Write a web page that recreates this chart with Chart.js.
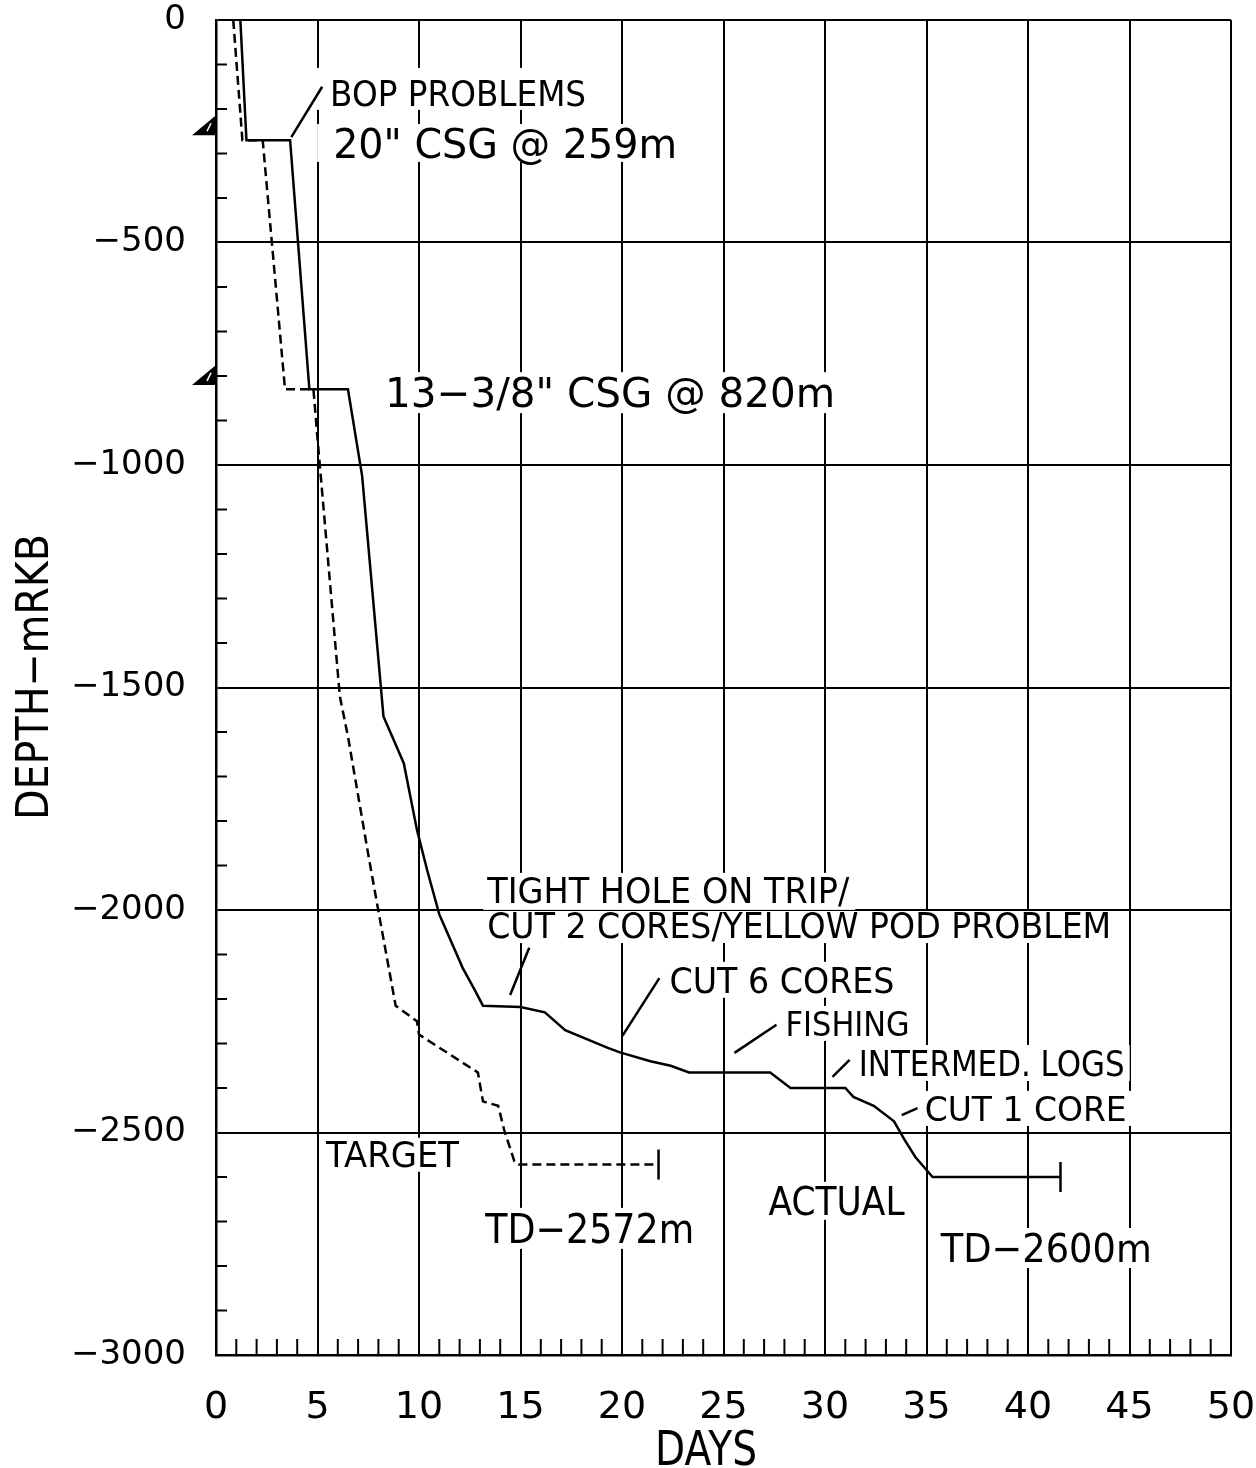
<!DOCTYPE html>
<html>
<head>
<meta charset="utf-8">
<script src="https://cdn.jsdelivr.net/npm/chart.js@4.4.1/dist/chart.umd.min.js"></script>
<style>
  html, body { margin: 0; padding: 0; background: #fff; }
  canvas { display: block; }
</style>
</head>
<body>
<canvas id="myChart" width="1256" height="1468"></canvas>
<script>
// actual well (solid line)
const actualDays = [1.2, 1.5, 3.65, 4.6, 6.5, 7.2, 8.25, 9.25, 9.9, 10.4, 11.0, 12.15, 12.75, 13.15, 15.0, 16.2, 17.2, 19.3, 19.9, 21.4, 22.4, 23.3, 27.3, 28.3, 31.0, 31.4, 32.4, 33.4, 33.9, 34.45, 35.3, 41.6];
const actualDepth = [0, -270, -270, -830, -830, -1025, -1565, -1670, -1820, -1910, -2010, -2130, -2180, -2215, -2218, -2230, -2270, -2310, -2320, -2340, -2350, -2365, -2365, -2400, -2400, -2420, -2440, -2475, -2515, -2555, -2600, -2600];

// planned well (dashed line)
const targetDays = [0.85, 1.3, 2.3, 3.4, 4.8, 5.0, 6.1, 6.5, 7.5, 8.05, 8.85, 9.9, 10.0, 12.9, 13.15, 13.9, 14.2, 14.7, 14.9, 21.8];
const targetDepth = [0, -270, -270, -830, -830, -940, -1520, -1610, -1875, -2015, -2215, -2250, -2280, -2365, -2430, -2440, -2495, -2565, -2572, -2572];

// casing shoes marked on the depth axis
const casingDepth = [-259, -820];

// text notes: left edge (day), baseline (depth), cap height & width in px
const notes = [
  { text: 'BOP PROBLEMS', day: 5.62, depth: -193, cap: 26, width: 256, pad: [16, 4, 12, 4] },
  { text: '20" CSG @ 259m', day: 5.77, depth: -310, cap: 30, width: 344, pad: [16, 4, 4, 4] },
  { text: '13\u22123/8" CSG @ 820m', day: 8.33, depth: -870, cap: 30, width: 450, pad: [6, 5, 5, 6] },
  { text: 'TIGHT HOLE ON TRIP/', day: 13.36, depth: -1984, cap: 26, width: 362, pad: [4, 6, 4, 7] },
  { text: 'CUT 2 CORES/YELLOW POD PROBLEM', day: 13.36, depth: -2063, cap: 26, width: 624, pad: [4, 4, 1, 5] },
  { text: 'CUT 6 CORES', day: 22.34, depth: -2186, cap: 26, width: 225, pad: [4, 5, 5, 5] },
  { text: 'FISHING', day: 28.06, depth: -2283, cap: 25, width: 124, pad: [4, 5, 5, 5] },
  { text: 'INTERMED. LOGS', day: 31.66, depth: -2373, cap: 26, width: 266, pad: [4, 5, 5, 5] },
  { text: 'CUT 1 CORE', day: 34.91, depth: -2474, cap: 25, width: 202, pad: [4, 5, 5, 5] },
  { text: 'TARGET', day: 5.42, depth: -2577, cap: 26, width: 133, pad: [4, 5, 3, 5] },
  { text: 'TD\u22122572m', day: 13.26, depth: -2748, cap: 30, width: 209, pad: [4, 5, 5, 6] },
  { text: 'ACTUAL', day: 27.22, depth: -2685, cap: 28, width: 136, pad: [4, 5, 5, 5] },
  { text: 'TD\u22122600m', day: 35.7, depth: -2791, cap: 29, width: 211, pad: [4, 5, 5, 6] }
];

// leader lines [day1, depth1, day2, depth2]
const leaders = [
  [5.23, -150, 3.71, -263],
  [15.43, -2085, 14.49, -2191],
  [21.84, -2153, 20.02, -2283],
  [27.61, -2258, 25.54, -2321],
  [31.21, -2337, 30.37, -2375],
  [34.56, -2445, 33.78, -2461]
];

const FONT = '"DejaVu Sans", "Liberation Sans", sans-serif';

function fitText(ctx, str, x, yBase, cap, width) {
  ctx.font = (cap / 0.73).toFixed(1) + 'px ' + FONT;
  const w = ctx.measureText(str).width;
  ctx.save();
  ctx.translate(x, yBase);
  ctx.scale(width / w, 1);
  ctx.textAlign = 'left';
  ctx.textBaseline = 'alphabetic';
  ctx.fillStyle = '#000';
  ctx.fillText(str, 0, 0);
  ctx.restore();
}

const decor = {
  id: 'decor',
  beforeDraw(chart) {
    const ctx = chart.ctx;
    ctx.save();
    ctx.fillStyle = '#fff';
    ctx.fillRect(0, 0, chart.width, chart.height);
    ctx.restore();
  },
  beforeDatasetsDraw(chart) {
    const ctx = chart.ctx;
    const xs = chart.scales.x, ys = chart.scales.y;
    const a = chart.chartArea;
    ctx.save();
    ctx.strokeStyle = '#000';
    ctx.lineWidth = 2;
    // minor ticks
    for (let d = 1; d < 50; d++) {
      if (d % 5 === 0) continue;
      const px = xs.getPixelForValue(d);
      ctx.beginPath();
      ctx.moveTo(px, a.bottom);
      ctx.lineTo(px, a.bottom - 16);
      ctx.stroke();
    }
    for (let v = -100; v > -3000; v -= 100) {
      if (v % 500 === 0) continue;
      const py = ys.getPixelForValue(v);
      ctx.beginPath();
      ctx.moveTo(a.left, py);
      ctx.lineTo(a.left + 11, py);
      ctx.stroke();
    }
    // notes with white backing
    notes.forEach(n => {
      const x = xs.getPixelForValue(n.day);
      const y = ys.getPixelForValue(n.depth);
      const p = n.pad;
      ctx.fillStyle = '#fff';
      ctx.fillRect(x - p[0], y - n.cap - p[2], n.width + p[0] + p[1], n.cap + p[2] + p[3]);
      fitText(ctx, n.text, x, y, n.cap, n.width);
    });
    // leaders
    ctx.lineWidth = 2.5;
    leaders.forEach(l => {
      ctx.beginPath();
      ctx.moveTo(xs.getPixelForValue(l[0]), ys.getPixelForValue(l[1]));
      ctx.lineTo(xs.getPixelForValue(l[2]), ys.getPixelForValue(l[3]));
      ctx.stroke();
    });
    // casing triangles
    casingDepth.forEach(c => {
      const py = ys.getPixelForValue(c);
      ctx.fillStyle = '#000';
      ctx.beginPath();
      ctx.moveTo(a.left, py - 20);
      ctx.lineTo(a.left - 24, py);
      ctx.lineTo(a.left, py);
      ctx.closePath();
      ctx.fill();
      ctx.strokeStyle = '#fff';
      ctx.lineWidth = 1.5;
      ctx.beginPath();
      ctx.moveTo(a.left - 5, py - 12);
      ctx.lineTo(a.left - 9, py - 4);
      ctx.stroke();
    });
    ctx.restore();
  },
  afterDatasetsDraw(chart) {
    const ctx = chart.ctx;
    ctx.save();
    ctx.strokeStyle = '#000';
    ctx.lineWidth = 2.5;
    // end-of-well bars on both curves
    chart.data.datasets.forEach((ds, i) => {
      const pts = chart.getDatasetMeta(i).data;
      const last = pts[pts.length - 1];
      ctx.beginPath();
      ctx.moveTo(last.x, last.y - 15);
      ctx.lineTo(last.x, last.y + 15);
      ctx.stroke();
    });
    ctx.restore();
  },
  afterDraw(chart) {
    const ctx = chart.ctx;
    // axis titles
    fitText(ctx, 'DAYS', 655, 1465, 35, 102);
    ctx.save();
    ctx.translate(48, 677);
    ctx.rotate(-Math.PI / 2);
    fitText(ctx, 'DEPTH\u2212mRKB', -143, 0, 32, 286);
    ctx.restore();
  }
};

function toPoints(xs, ys) {
  return xs.map((x, i) => ({ x: x, y: ys[i] }));
}

const ctx = document.getElementById('myChart').getContext('2d');
new Chart(ctx, {
  type: 'line',
  data: {
    datasets: [
      {
        label: 'ACTUAL',
        data: toPoints(actualDays, actualDepth),
        borderColor: '#000',
        borderWidth: 2.5,
        pointRadius: 0,
        tension: 0,
        fill: false
      },
      {
        label: 'TARGET',
        data: toPoints(targetDays, targetDepth),
        borderColor: '#000',
        borderWidth: 2.5,
        borderDash: [9, 5],
        pointRadius: 0,
        tension: 0,
        fill: false
      }
    ]
  },
  options: {
    responsive: false,
    animation: false,
    devicePixelRatio: 1,
    layout: { padding: { top: 20, right: 25, left: 0, bottom: 0 } },
    plugins: {
      legend: { display: false },
      tooltip: { enabled: false }
    },
    scales: {
      x: {
        type: 'linear',
        min: 0,
        max: 50,
        ticks: {
          stepSize: 5,
          color: '#000',
          padding: 30,
          font: { family: FONT, size: 38 }
        },
        grid: { color: '#000', lineWidth: 2, drawTicks: false },
        border: { color: '#000', width: 2.5 },
        afterFit(scale) {
          scale.height = 113;
          scale.paddingLeft = 0;
          scale.paddingRight = 0;
        }
      },
      y: {
        type: 'linear',
        min: -3000,
        max: 0,
        ticks: {
          stepSize: 500,
          color: '#000',
          padding: 30,
          font: { family: FONT, size: 34 },
          callback: v => String(v).replace('-', '\u2212')
        },
        grid: { color: '#000', lineWidth: 2, drawTicks: false },
        border: { color: '#000', width: 2.5 },
        afterFit(scale) {
          scale.width = 216;
          scale.paddingTop = 0;
          scale.paddingBottom = 0;
        }
      }
    }
  },
  plugins: [decor]
});
</script>
</body>
</html>
